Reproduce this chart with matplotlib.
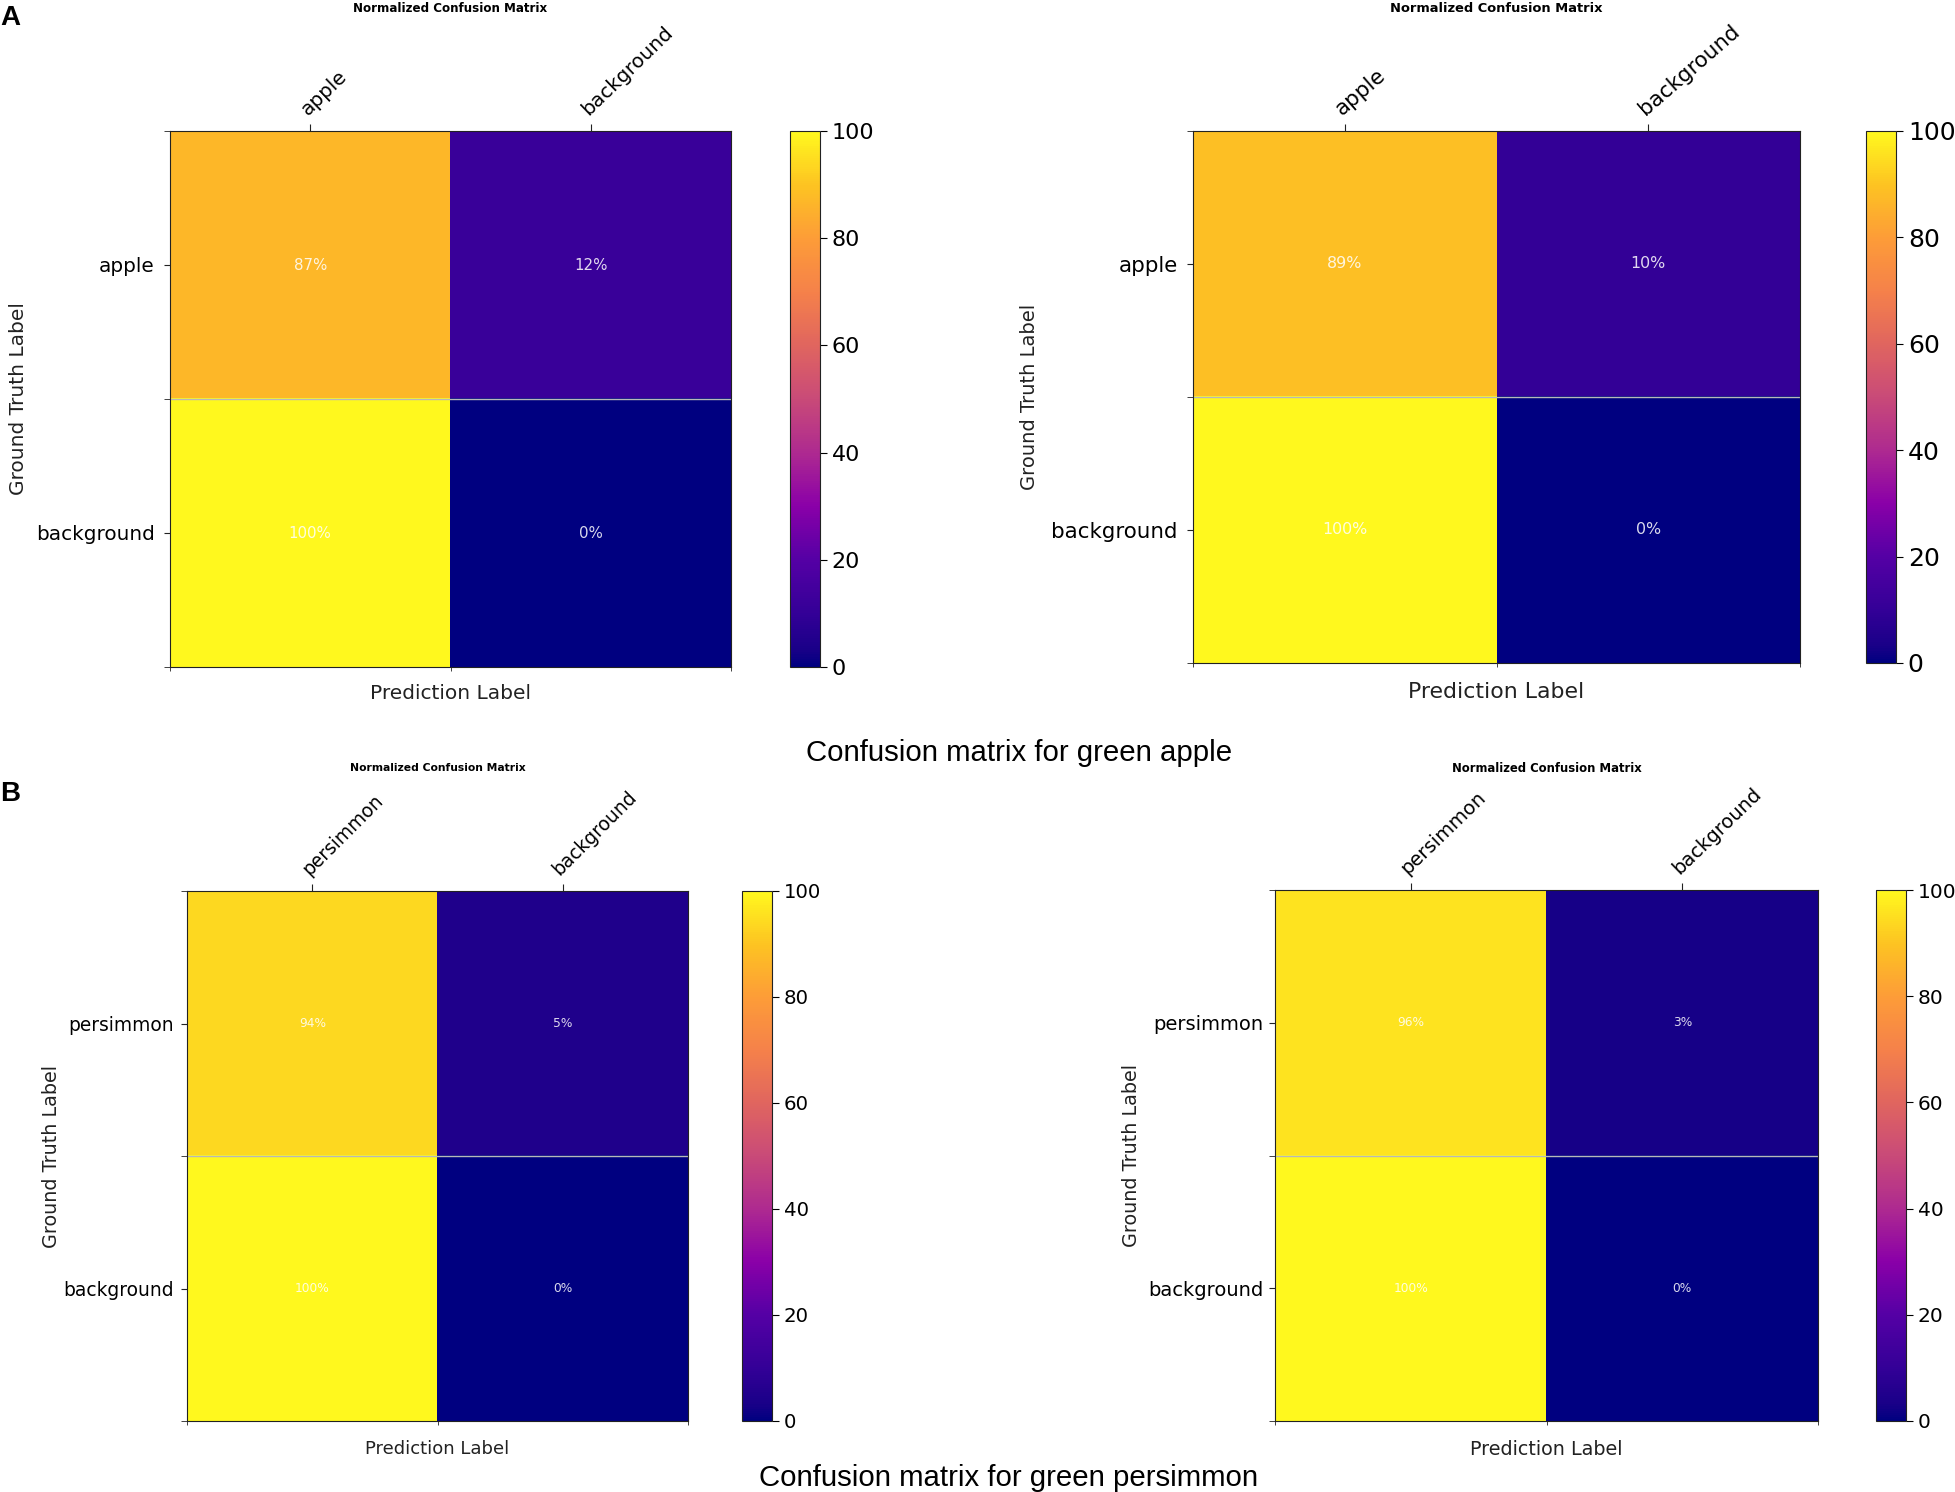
import numpy as np
import matplotlib
matplotlib.use('Agg')
import matplotlib.pyplot as plt
from matplotlib.colors import LinearSegmentedColormap

W, H = 1955, 1492

apple_a = [[87, 12], [100, 0]]
apple_b = [[89, 10], [100, 0]]
persimmon_a = [[94, 5], [100, 0]]
persimmon_b = [[96, 3], [100, 0]]
apple_labels = ['apple', 'background']
persimmon_labels = ['persimmon', 'background']
cbar_ticks = [0, 20, 40, 60, 80, 100]

# colours picked off the colour bar in the reference
cmap = LinearSegmentedColormap.from_list('cm', [
    (0.0, '#000080'), (0.03, '#190088'), (0.1, '#340097'), (0.2, '#5500a5'),
    (0.3, '#8a00a8'), (0.4, '#ae2a90'), (0.5, '#c94a78'), (0.6, '#e0655f'),
    (0.7, '#f5814a'), (0.8, '#fd9c38'), (0.9, '#fdc322'), (1.0, '#fff81e')])


def px_rect(x0, y0, x1, y1):
    return [x0 / W, 1 - y1 / H, (x1 - x0) / W, (y1 - y0) / H]


def matrix(fig, data, labels, box, cbox, fs, cb_fs, title_fs, xl_fs, yl_fs, title_y,
           pct_fs, tick_pad, xpad, ypad, rot):
    ax = fig.add_axes(px_rect(*box))
    im = ax.imshow(data, cmap=cmap, vmin=0, vmax=100, aspect='auto',
                   extent=[0, 2, 2, 0], interpolation='nearest')
    ax.set_xticks([0.5, 1.5])
    ax.set_xticklabels(labels, rotation=rot, ha='left', va='bottom',
                       rotation_mode='anchor', fontsize=fs)
    ax.set_yticks([0.5, 1.5])
    ax.set_yticklabels(labels, fontsize=fs)
    ax.set_xticks([0, 1, 2], minor=True)
    ax.set_yticks([0, 1, 2], minor=True)
    ax.tick_params(axis='x', which='major', top=True, bottom=False,
                   labeltop=True, labelbottom=False, length=5, color='#222222')
    ax.tick_params(axis='x', which='minor', top=False, bottom=True, length=3,
                   color='#222222')
    ax.tick_params(axis='y', which='both', length=4, color='#222222', pad=tick_pad)
    ax.axhline(1, color='#b8b8b8', lw=1)
    for i in range(2):
        for j in range(2):
            ax.text(j + 0.5, i + 0.5, f'{data[i][j]}%', color='white',
                    ha='center', va='center', fontsize=pct_fs, alpha=0.85)
    ax.set_xlabel('Prediction Label', fontsize=xl_fs, color='#222222',
                  labelpad=xpad)
    ax.set_ylabel('Ground Truth Label', fontsize=yl_fs,
                  color='#222222', labelpad=ypad)
    fig.text((box[0] + box[2]) / 2 / W, 1 - title_y / H,
             'Normalized Confusion Matrix', fontsize=title_fs,
             fontweight='bold', ha='center', va='center')
    for s in ax.spines.values():
        s.set_color('#222222')
    cax = fig.add_axes(px_rect(*cbox))
    cb = fig.colorbar(im, cax=cax, ticks=cbar_ticks)
    cb.ax.tick_params(labelsize=cb_fs, length=5)
    cb.outline.set_edgecolor('#222222')


fig = plt.figure(figsize=(W / 100, H / 100), dpi=100)

matrix(fig, apple_a, apple_labels, (170, 131, 731, 667), (790, 131, 820, 667),
       14.4, 16, 8.6, 14.5, 14.5, 9, 10.8, 7, 5.5, 6, 44)
matrix(fig, apple_b, apple_labels, (1193, 131, 1800, 663), (1866, 131, 1896, 663),
       15.4, 18, 9.4, 15.8, 14, 9, 11.4, 7, 7, 8.5, 41)
matrix(fig, persimmon_a, persimmon_labels, (187, 891, 688, 1421), (742, 891, 772, 1421),
       13.4, 14.2, 7.75, 13, 13.8, 768, 8.8, 5.3, 7, 1.5, 45)
matrix(fig, persimmon_b, persimmon_labels, (1275, 890, 1818, 1421), (1876, 890, 1906, 1421),
       14, 14.5, 8.35, 13.8, 13.8, 768, 8.8, 4.4, 7, 5, 44)

cap = 'Liberation Sans'
fig.text(1019 / W, 1 - 753 / H, 'Confusion matrix for green apple', family=cap,
         fontsize=21.2, ha='center', va='center')
fig.text(1009 / W, 1 - 1478 / H, 'Confusion matrix for green persimmon', family=cap,
         fontsize=21.2, ha='center', va='center')
fig.text(0, 1 - 18 / H, 'A', family=cap, fontweight='bold', fontsize=20,
         ha='left', va='center')
fig.text(0, 1 - 794 / H, 'B', family=cap, fontweight='bold', fontsize=20,
         ha='left', va='center')

fig.savefig('out.png', dpi=100)
